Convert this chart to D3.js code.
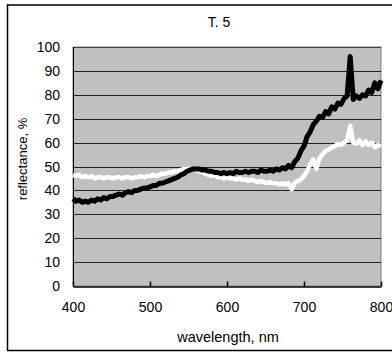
<!DOCTYPE html>
<html>
<head>
<meta charset="utf-8">
<script src="https://cdn.jsdelivr.net/npm/d3@7"></script>
<style>
  body { margin: 0; background: #fff; }
  svg { display: block; font-family: "Liberation Sans", Arial, sans-serif; }
</style>
</head>
<body>
<div id="chart"></div>
<script>
// Sampled wavelengths, nm.
const wavelengths = [
  400, 404, 408, 412, 416, 420, 424, 428, 432, 436, 440, 444, 448, 452, 456, 460, 464, 468, 472, 476,
  480, 484, 488, 492, 496, 500, 504, 508, 512, 516, 520, 524, 528, 532, 536, 540, 544, 548, 552, 556,
  560, 564, 568, 572, 576, 580, 584, 588, 592, 596, 600, 604, 608, 612, 616, 620, 624, 628, 632, 636,
  640, 644, 648, 652, 656, 660, 664, 668, 672, 676, 680, 684, 688, 692, 696, 700, 704, 708, 712, 716,
  720, 724, 728, 732, 736, 740, 744, 748, 752, 756, 760, 764, 768, 772, 776, 780, 784, 788, 792, 796,
  800
];

// Black series, reflectance %.
const blackSeries = [
  36.5, 35.5, 36, 35, 35.5, 35, 36, 35.5, 36.5, 36, 37, 36.5, 37.5, 37.5, 38, 38.5, 38, 39, 39.5, 39,
  40, 40, 40.5, 41, 41, 41.5, 42, 42, 43, 43, 43.5, 44, 44.5, 45, 45.5, 46.5, 47, 48, 48.5, 49,
  49, 49, 48.5, 48.5, 48, 48, 47.5, 47.5, 47, 47.5, 47, 47.5, 47, 48, 47.5, 47.5, 48, 47.5, 48, 48,
  47.5, 48.5, 48, 48, 48.5, 48, 49, 48.5, 49.5, 49, 50.5, 49.5, 52, 53.5, 56.5, 58.5, 62.5, 64.5, 67.5, 69,
  71, 70.5, 73, 72, 75, 74, 76.5, 76, 78.5, 79.5, 96, 78, 79.5, 78.5, 80, 79.5, 82, 81, 85, 82.5,
  86
];

// White series, reflectance %.
const whiteSeries = [
  46.5, 46, 46.5, 45.5, 46, 45.5, 46, 45, 45.5, 45.5, 45, 45.5, 45.5, 45, 45.5, 45.5, 45, 45.5, 45.5, 45,
  45.5, 45.5, 46, 45.5, 46, 46, 46.5, 46, 46.5, 47, 47, 47.5, 47.5, 48, 48, 48.5, 49, 49, 49, 49,
  48.5, 48, 47.5, 47, 46.5, 46, 46.5, 45.5, 45.5, 45, 45.5, 45, 45, 44.5, 45, 44.5, 44.5, 44, 44.5, 44,
  43.5, 44, 43.5, 43, 43.5, 43, 43, 42.5, 43, 42.5, 43, 40.5, 43, 44, 44.5, 46, 48, 51, 53, 49,
  53.5, 55, 56.5, 57, 58, 58.5, 59.5, 59, 60, 61, 67, 60, 59.5, 61, 59, 60.5, 59, 60, 58, 59,
  58.5
];

const xTicks = [400, 500, 600, 700, 800];
const yTicks = [0, 10, 20, 30, 40, 50, 60, 70, 80, 90, 100];

const W = 392, H = 354;
const plot = { left: 73, right: 381, top: 47, bottom: 286 };

const svg = d3.select('#chart').append('svg')
  .attr('width', W)
  .attr('height', H);

// Outer chart border.
svg.append('rect')
  .attr('x', 7.5).attr('y', 5)
  .attr('width', 400).attr('height', 345.5)
  .attr('fill', 'none')
  .attr('stroke', '#000')
  .attr('stroke-width', 1.5);

const x = d3.scaleLinear().domain([400, 800]).range([plot.left, plot.right]);
const y = d3.scaleLinear().domain([0, 100]).range([plot.bottom, plot.top]);

// Plot area background.
svg.append('rect')
  .attr('x', x(400)).attr('y', y(100))
  .attr('width', x(800) - x(400)).attr('height', y(0) - y(100))
  .attr('fill', '#c0c0c0')
  .attr('stroke', '#808080');

// Horizontal gridlines.
svg.append('g')
  .selectAll('line')
  .data(yTicks.filter(d => d > 0))
  .join('line')
    .attr('x1', x(400)).attr('x2', x(800))
    .attr('y1', d => Math.round(y(d)) + 0.5)
    .attr('y2', d => Math.round(y(d)) + 0.5)
    .attr('stroke', d => d === 100 ? '#444' : '#222')
    .attr('stroke-width', 1);

// Y axis labels.
svg.append('g')
  .style('font-size', '14px')
  .selectAll('text')
  .data(yTicks)
  .join('text')
    .attr('x', 60)
    .attr('y', d => y(d) + 5)
    .attr('text-anchor', 'end')
    .attr('fill', '#000')
    .text(d => d);

// Left axis line.
svg.append('line')
  .attr('x1', x(400) + 0.5).attr('x2', x(400) + 0.5)
  .attr('y1', y(100)).attr('y2', y(0))
  .attr('stroke', '#000');

// Bottom axis with inward ticks.
const xAxis = svg.append('g')
  .attr('transform', `translate(0, ${Math.round(y(0)) + 0.5})`)
  .call(d3.axisBottom(x).tickValues(xTicks).tickSize(-5).tickPadding(16).tickSizeOuter(0));
xAxis.select('.domain').attr('stroke', '#000').attr('stroke-width', 1.5);
xAxis.selectAll('.tick line').attr('stroke', '#000').attr('stroke-width', 1.5);
xAxis.selectAll('text')
  .style('font-size', '14px')
  .style('font-family', '"Liberation Sans", Arial, sans-serif')
  .attr('fill', '#000');

// Curves.
const line = d3.line()
  .x((d, i) => x(wavelengths[i]))
  .y(d => y(d));

svg.append('path')
  .datum(whiteSeries)
  .attr('d', line)
  .attr('fill', 'none')
  .attr('stroke', '#fff')
  .attr('stroke-width', 4.5)
  .attr('stroke-linejoin', 'round');

svg.append('path')
  .datum(blackSeries)
  .attr('d', line)
  .attr('fill', 'none')
  .attr('stroke', '#000')
  .attr('stroke-width', 5)
  .attr('stroke-linejoin', 'round');

// Title and axis titles.
svg.append('text')
  .attr('x', 219).attr('y', 27)
  .attr('text-anchor', 'middle')
  .style('font-size', '14px')
  .text('T. 5');

svg.append('text')
  .attr('x', 228).attr('y', 342)
  .attr('text-anchor', 'middle')
  .style('font-size', '14.5px')
  .text('wavelength, nm');

svg.append('text')
  .attr('transform', 'translate(27, 159) rotate(-90)')
  .attr('text-anchor', 'middle')
  .style('font-size', '13px')
  .text('reflectance, %');
</script>
</body>
</html>
